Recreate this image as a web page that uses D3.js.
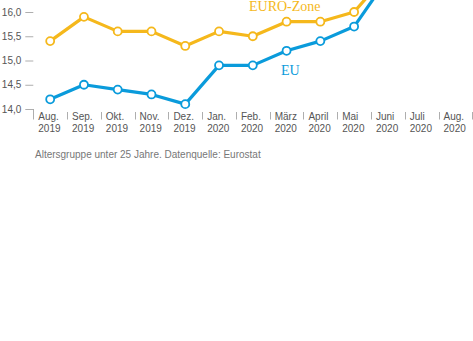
<!DOCTYPE html>
<html>
<head>
<meta charset="utf-8">
<script src="https://cdn.jsdelivr.net/npm/d3@7"></script>
<style>
  html, body { margin: 0; padding: 0; background: #fff; }
  svg { display: block; }
</style>
</head>
<body>
<svg id="chart" width="473" height="341"></svg>
<script>
const months = ["Aug.", "Sep.", "Okt.", "Nov.", "Dez.", "Jan.", "Feb.", "März", "April", "Mai", "Juni", "Juli", "Aug."];
const years  = ["2019", "2019", "2019", "2019", "2019", "2020", "2020", "2020", "2020", "2020", "2020", "2020", "2020"];
const euroZone = [15.4, 15.9, 15.6, 15.6, 15.3, 15.6, 15.5, 15.8, 15.8, 16.0, 16.8, 17.3, 17.7];
const eu       = [14.2, 14.5, 14.4, 14.3, 14.1, 14.9, 14.9, 15.2, 15.4, 15.7, 16.7, 17.0, 17.4];
const yTicks = [14.0, 14.5, 15.0, 15.5, 16.0];
const note = "Altersgruppe unter 25 Jahre. Datenquelle: Eurostat";

const yellow = "#f5b81c";
const blue = "#0a9bdb";
const grey = "#999";

const svg = d3.select("#chart");
const idx = months.map((m, i) => i);

const x = d3.scaleBand().domain(idx).range([33.3, 472.3]).padding(0);
const y = d3.scaleLinear().domain([14, 16]).range([109, 12]);

// Y axis
const yAxis = d3.axisLeft(y)
  .tickValues(yTicks)
  .tickSize(8)
  .tickPadding(4)
  .tickFormat(d => d3.format(".1f")(d).replace(".", ","));
const gy = svg.append("g").attr("transform", "translate(33.3,0)").call(yAxis);
gy.select(".domain").remove();
gy.selectAll(".tick line").attr("stroke", grey).attr("stroke-width", 0.8);
gy.selectAll(".tick text")
  .attr("fill", "#555")
  .style("font-family", "'Liberation Sans', Arial, sans-serif")
  .style("font-size", "10px");

// X axis separators and labels
const gx = svg.append("g");
const bounds = idx.map(i => x(i)).concat([x(idx[idx.length - 1]) + x.bandwidth()]);
gx.selectAll("line.sep").data(bounds).enter().append("line")
  .attr("class", "sep")
  .attr("x1", d => Math.round(d) + 0.5).attr("x2", d => Math.round(d) + 0.5)
  .attr("y1", (d, i) => i === 0 ? y(14) : 112)
  .attr("y2", 119.5)
  .attr("stroke", grey).attr("stroke-width", 0.8);

const lbl = gx.selectAll("text.xl").data(idx).enter().append("text")
  .attr("class", "xl")
  .attr("fill", "#555")
  .style("font-family", "'Liberation Sans', Arial, sans-serif")
  .style("font-size", "10px");
lbl.append("tspan").attr("x", d => x(d) + 5).attr("y", 120).text(d => months[d]);
lbl.append("tspan").attr("x", d => x(d) + 5).attr("y", 132).text(d => years[d]);

// Lines
const cx = i => x(i) + x.bandwidth() / 2;
const line = d3.line().x((d, i) => cx(i)).y(d => y(d));

function drawSeries(values, color) {
  svg.append("path").datum(values)
    .attr("d", line)
    .attr("fill", "none")
    .attr("stroke", color)
    .attr("stroke-width", 3.2)
    .attr("stroke-linejoin", "round");
  svg.append("g").selectAll("circle").data(values).enter().append("circle")
    .attr("cx", (d, i) => cx(i))
    .attr("cy", d => y(d))
    .attr("r", 4)
    .attr("fill", "#fff")
    .attr("stroke", color)
    .attr("stroke-width", 1.8);
}
drawSeries(euroZone, yellow);
drawSeries(eu, blue);

// Series labels
svg.append("text").attr("x", 249).attr("y", 10.5)
  .attr("fill", yellow)
  .style("font-family", "'Liberation Serif', 'Times New Roman', serif")
  .style("font-size", "14px")
  .text("EURO-Zone");
svg.append("text").attr("x", 281).attr("y", 75)
  .attr("fill", blue)
  .style("font-family", "'Liberation Serif', 'Times New Roman', serif")
  .style("font-size", "14px")
  .text("EU");

// Footnote
svg.append("text").attr("x", 35).attr("y", 158)
  .attr("fill", "#777")
  .style("font-family", "'Liberation Sans', Arial, sans-serif")
  .style("font-size", "10px")
  .text(note);
</script>
</body>
</html>
